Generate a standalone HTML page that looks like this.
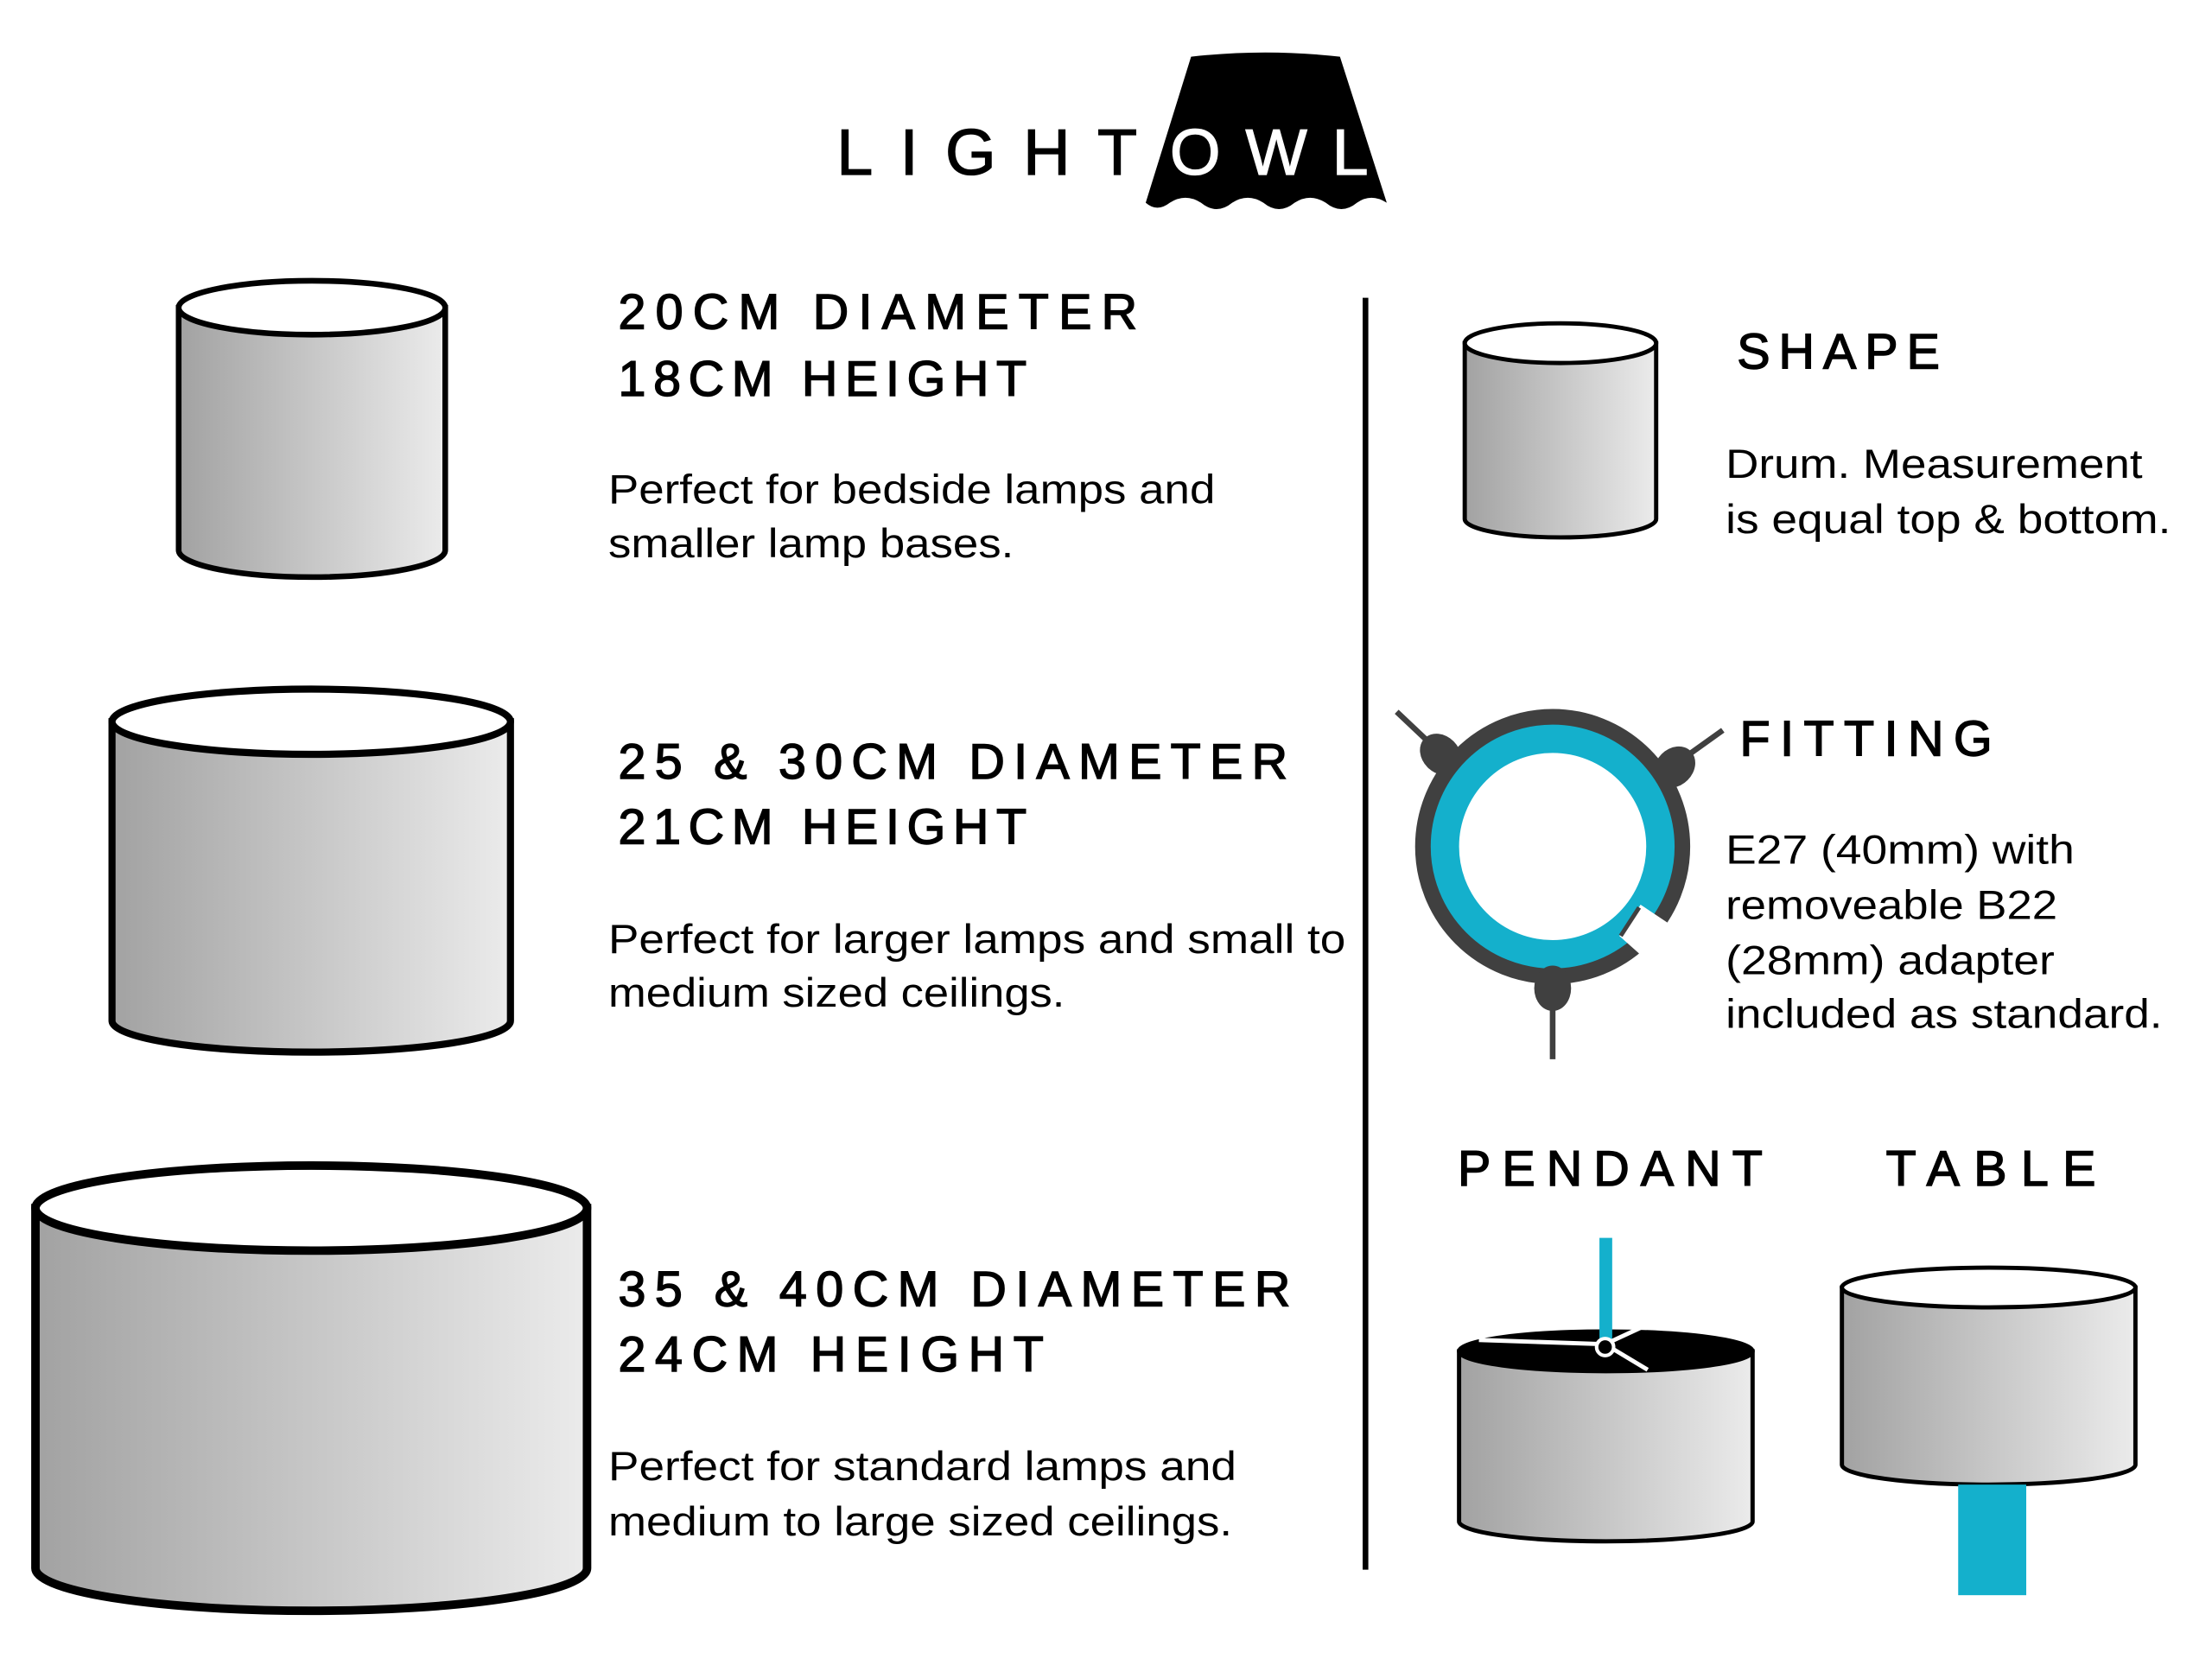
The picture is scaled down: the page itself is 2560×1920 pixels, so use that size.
<!DOCTYPE html>
<html><head><meta charset="utf-8"><style>html,body{margin:0;padding:0;background:#fff}svg{display:block}</style></head>
<body>
<svg width="2560" height="1920" viewBox="0 0 1560 1170" preserveAspectRatio="none" xmlns="http://www.w3.org/2000/svg">
<defs>
<linearGradient id="g" x1="0" x2="1" y1="0" y2="0"><stop offset="0" stop-color="#a2a2a2"/><stop offset="1" stop-color="#ebebeb"/></linearGradient>
</defs>
<rect width="1560" height="1170" fill="#fff"/>
<path d="M840,40 Q892,34 945,40 L978,143 Q967,136 957,143 Q946,152 935,143 Q924,136 913,143 Q902,152 891,143 Q880,136 869,143 Q858,152 847,143 Q836,136 825,143 Q816,150 808,143 Z" fill="#000"/>
<g font-family="Liberation Sans, sans-serif" font-size="46" stroke-width="0.8">
<text x="590" y="123" textLength="212" lengthAdjust="spacing" fill="#000" stroke="#000">LIGHT</text>
<text x="825" y="123" textLength="140" lengthAdjust="spacing" fill="#fff" stroke="#fff">OWL</text>
</g>
<line x1="963" y1="210" x2="963" y2="1107" stroke="#000" stroke-width="4"/>
<g stroke="#000" stroke-width="4">
<path d="M126,217 L126,388 A94,19 0 0 0 314,388 L314,217 Z" fill="url(#g)"/>
<ellipse cx="220" cy="217" rx="94" ry="19" fill="#fff"/>
<path d="M79,509 L79,720 A140.5,22 0 0 0 360,720 L360,509 Z" fill="url(#g)" stroke-width="5"/>
<ellipse cx="219.5" cy="509" rx="140.5" ry="23" fill="#fff" stroke-width="5"/>
<path d="M25,852 L25,1106 A194.5,30 0 0 0 414,1106 L414,852 Z" fill="url(#g)" stroke-width="6"/>
<ellipse cx="219.5" cy="852" rx="194.5" ry="30" fill="#fff" stroke-width="6"/>
<path d="M1033,242 L1033,366 A67.5,13 0 0 0 1168,366 L1168,242 Z" fill="url(#g)" stroke-width="3"/>
<ellipse cx="1100.5" cy="242" rx="67.5" ry="14" fill="#fff" stroke-width="3"/>
<path d="M1029,953 L1029,1073 A103.5,14 0 0 0 1236,1073 L1236,953 Z" fill="url(#g)" stroke-width="3"/>
<ellipse cx="1132.5" cy="953" rx="103.5" ry="14" fill="#000" stroke-width="3"/>
<path d="M1299,908 L1299,1033 A103.5,14 0 0 0 1506,1033 L1506,908 Z" fill="url(#g)" stroke-width="3"/>
<ellipse cx="1402.5" cy="908" rx="103.5" ry="14" fill="#fff" stroke-width="3"/>
</g>
<rect x="1128" y="873" width="9" height="77" fill="#14b0cc"/>
<g stroke="#fff" stroke-width="3">
<line x1="1132" y1="948" x2="1043" y2="945"/><line x1="1132" y1="948" x2="1160" y2="935"/><line x1="1132" y1="948" x2="1162" y2="966"/>
</g>
<circle cx="1132" cy="950" r="6" fill="#000" stroke="#fff" stroke-width="2.5"/>
<rect x="1381" y="1047" width="48" height="78" fill="#14b0cc"/>
<g stroke="#404040" stroke-width="4">
<line x1="985" y1="502" x2="1020" y2="535"/><line x1="1215" y1="515" x2="1180" y2="540"/><line x1="1095" y1="700" x2="1095" y2="747"/>
</g>
<circle cx="1095" cy="597" r="91" fill="none" stroke="#404040" stroke-width="12"/>
<circle cx="1095" cy="597" r="76" fill="none" stroke="#14b0cc" stroke-width="20"/>
<path d="M1157,638 L1178,652 L1160,676 L1142,660 Z" fill="#fff"/>
<line x1="1156" y1="640" x2="1143" y2="660" stroke="#404040" stroke-width="3"/>
<g fill="#404040">
<ellipse cx="1016" cy="532" rx="13" ry="16" transform="rotate(-45 1016 532)"/>
<ellipse cx="1181" cy="541" rx="13" ry="16" transform="rotate(45 1181 541)"/>
<ellipse cx="1095" cy="697" rx="13" ry="16"/>
</g>
<g font-family="Liberation Sans, sans-serif" fill="#000" stroke="#000" stroke-width="0.9" font-size="35">
<text x="436" y="232" textLength="366" lengthAdjust="spacing">20CM DIAMETER</text>
<text x="436" y="279" textLength="288" lengthAdjust="spacing">18CM HEIGHT</text>
<text x="436" y="549" textLength="472" lengthAdjust="spacing">25 &amp; 30CM DIAMETER</text>
<text x="436" y="595" textLength="288" lengthAdjust="spacing">21CM HEIGHT</text>
<text x="436" y="921" textLength="474" lengthAdjust="spacing">35 &amp; 40CM DIAMETER</text>
<text x="436" y="967" textLength="300" lengthAdjust="spacing">24CM HEIGHT</text>
<text x="1225" y="260" textLength="143" lengthAdjust="spacing">SHAPE</text>
<text x="1227" y="533" textLength="178" lengthAdjust="spacing">FITTING</text>
<text x="1028" y="836" textLength="215" lengthAdjust="spacing">PENDANT</text>
<text x="1330" y="836" textLength="148" lengthAdjust="spacing">TABLE</text>
</g>
<g font-family="Liberation Sans, sans-serif" fill="#000" font-size="29">
<text x="429" y="355" textLength="428" lengthAdjust="spacingAndGlyphs">Perfect for bedside lamps and</text>
<text x="429" y="393" textLength="286" lengthAdjust="spacingAndGlyphs">smaller lamp bases.</text>
<text x="429" y="672" textLength="520" lengthAdjust="spacingAndGlyphs">Perfect for larger lamps and small to</text>
<text x="429" y="710" textLength="322" lengthAdjust="spacingAndGlyphs">medium sized ceilings.</text>
<text x="429" y="1044" textLength="443" lengthAdjust="spacingAndGlyphs">Perfect for standard lamps and</text>
<text x="429" y="1083" textLength="440" lengthAdjust="spacingAndGlyphs">medium to large sized ceilings.</text>
<text x="1217" y="337" textLength="294" lengthAdjust="spacingAndGlyphs">Drum. Measurement</text>
<text x="1217" y="376" textLength="314" lengthAdjust="spacingAndGlyphs">is equal top &amp; bottom.</text>
<text x="1217" y="609" textLength="246" lengthAdjust="spacingAndGlyphs">E27 (40mm) with</text>
<text x="1217" y="648" textLength="234" lengthAdjust="spacingAndGlyphs">removeable B22</text>
<text x="1217" y="687" textLength="232" lengthAdjust="spacingAndGlyphs">(28mm) adapter</text>
<text x="1217" y="725" textLength="308" lengthAdjust="spacingAndGlyphs">included as standard.</text>
</g>
</svg>
</body></html>
